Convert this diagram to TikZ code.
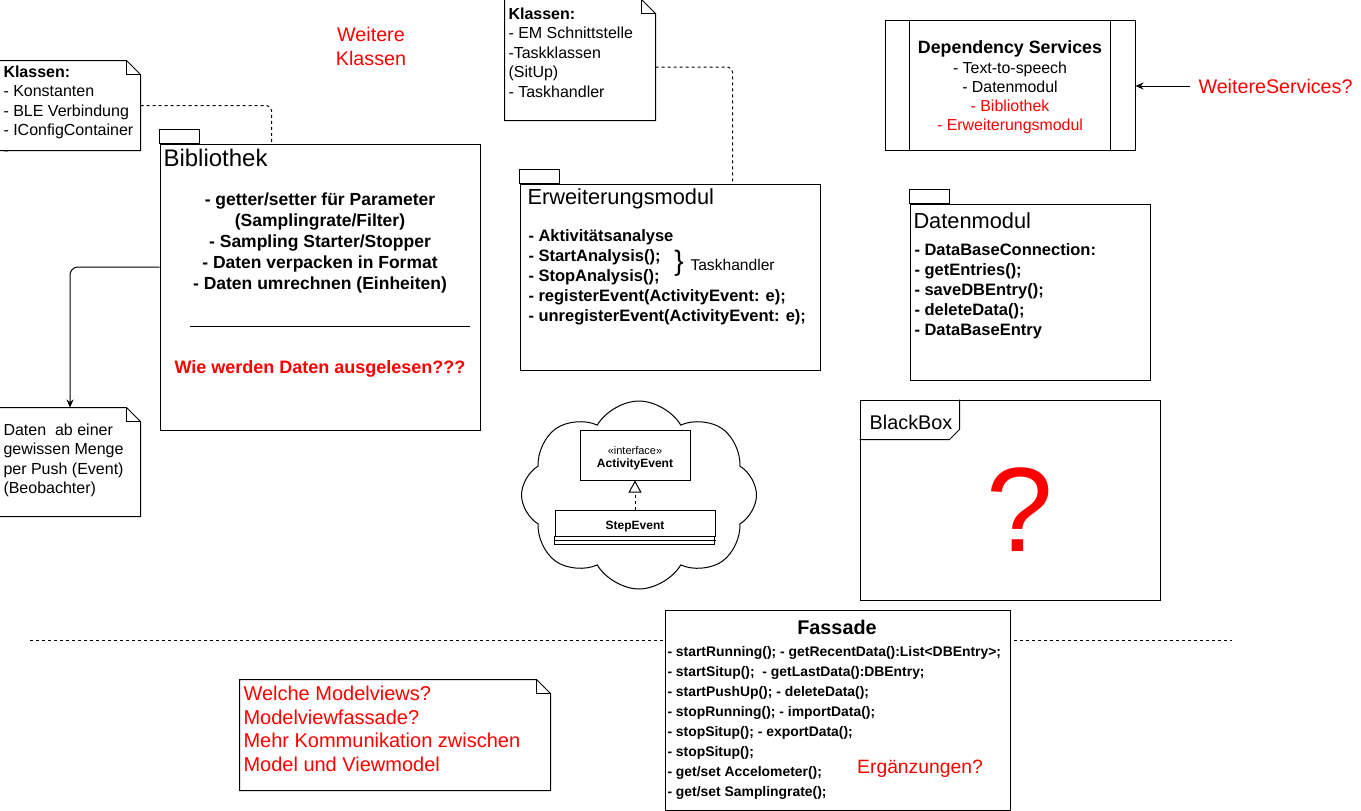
\documentclass[tikz,border=0pt]{standalone}
\usepackage{fontspec}
\setmainfont{Liberation Sans}
\usetikzlibrary{shapes.symbols,arrows.meta}
\newcommand{\txtsize}[2]{\fontsize{#1}{#2}\selectfont}
\newcommand{\dogear}[1]{%
  \draw (#1.north west) -- ([xshift=-14pt]#1.north east) -- ([yshift=-14pt]#1.north east) -- (#1.south east) -- (#1.south west) -- cycle;
  \draw ([xshift=-14pt]#1.north east) |- ([yshift=-14pt]#1.north east);}
\begin{document}
\begin{tikzpicture}[x=1pt, y=-1pt, line width=1pt,
  every node/.style={inner sep=0pt, font=\txtsize{16}{19.5}},
  pkg/.style={draw, fill=white},
  plain/.style={align=left, font=\txtsize{16}{19.6}},
  opslist/.style={align=left, font=\bfseries\txtsize{16.5}{20}},
  pkgtitle/.style={anchor=north west, font=\txtsize{21.8}{26}},
  dashlink/.style={dash pattern=on 3pt off 3pt, rounded corners=5pt},
  arr/.style={-{Stealth[length=8pt,width=7pt]}}]
\useasboundingbox (0,0) rectangle (1361,811);
\node[minimum width=140pt,minimum height=89pt] (klassenBib) at (70,105.5) {};
\dogear{klassenBib}
\node[plain,anchor=north west] (klassenBibTxt) at (3,65) {\textbf{Klassen:}\\- Konstanten\\- BLE Verbindung\\- IConfigContainer\\-};
\node[text=red,align=center,font=\txtsize{19.7}{24}] (moreCls) at (371,46) {Weitere\\Klassen};
\node[pkg,minimum width=320pt,minimum height=286pt] (bib) at (320,287) {};
\draw (bib.north west) rectangle ++(40pt,14pt);
\node[anchor=north west,font=\txtsize{24}{28}] (bibTitle) at (163,149) {Bibliothek};
\node[anchor=north,align=center,font=\bfseries\txtsize{17.5}{21}] (bibOps) at (320,192) {- getter/setter für Parameter\\(Samplingrate/Filter)\\- Sampling Starter/Stopper\\- Daten verpacken in Format\\- Daten umrechnen (Einheiten)};
\draw (190,326) -- (470,326);
\node[anchor=base,text=red,font=\bfseries\txtsize{18}{22}] (bibQ) at (320,373) {Wie werden Daten ausgelesen???};
\draw[dashlink] (klassenBib.east) -| ([xshift=112pt]bib.north west);
\node[minimum width=140pt,minimum height=108pt] (pushNote) at (70,462) {};
\dogear{pushNote}
\node[plain,anchor=north west] (pushTxt) at (3,423) {Daten~ ab einer\\gewissen Menge\\per Push (Event)\\(Beobachter)};
\draw[arr,rounded corners=8pt] ([yshift=20pt]bib.west) -| (pushNote.north);
\node[minimum width=150pt,minimum height=120pt] (klassenErw) at (580,60) {};
\dogear{klassenErw}
\node[plain,anchor=north west] (klassenErwTxt) at (508,7) {\textbf{Klassen:}\\- EM Schnittstelle\\-Taskklassen\\(SitUp)\\- Taskhandler};
\node[pkg,minimum width=300pt,minimum height=186pt] (erw) at (670,277) {};
\draw (erw.north west) rectangle ++(40pt,14pt);
\node[pkgtitle] (erwTitle) at (527,188) {Erweiterungsmodul};
\node[opslist,anchor=north west] (erwOps) at (528,229) {- Aktivitätsanalyse\\- StartAnalysis();\\- StopAnalysis();\\- registerEvent(ActivityEvent: e);\\- unregisterEvent(ActivityEvent: e);};
\node[font=\txtsize{28}{30}] (erwBrace) at (679,263.5) {\}};
\node[anchor=west,font=\txtsize{15.6}{19}] (erwHandler) at (690,265) {Taskhandler};
\draw[dashlink] ([yshift=-7pt]klassenErw.east) -| ([xshift=213pt]erw.north west);
\node[draw,minimum width=250pt,minimum height=130pt] (depSvc) at (1010,85) {};
\node[align=center,font=\txtsize{15.9}{19.3}] (depSvcTxt) at (1010,87.5) {{\bfseries\txtsize{17.8}{19.3}Dependency Services}\\- Text-to-speech\\- Datenmodul\\\textcolor{red}{- Bibliothek}\\\textcolor{red}{- Erweiterungsmodul}};
\draw ([xshift=25pt]depSvc.north west) -- ([xshift=25pt]depSvc.south west);
\draw ([xshift=-25pt]depSvc.north east) -- ([xshift=-25pt]depSvc.south east);
\node[text=red,anchor=west,inner xsep=8pt,font=\txtsize{19.7}{24}] (moreSvc) at (1190,86) {WeitereServices?};
\draw[arr] (moreSvc.west) -- (moreSvc.west -| depSvc.east);
\node[pkg,minimum width=240pt,minimum height=176pt] (daten) at (1030,292) {};
\draw (daten.north west) rectangle ++(40pt,14pt);
\node[pkgtitle] (datenTitle) at (913,212) {Datenmodul};
\node[opslist,anchor=north west] (datenOps) at (914,243) {- DataBaseConnection:\\- getEntries();\\- saveDBEntry();\\- deleteData();\\- DataBaseEntry};
\node[cloud,draw,cloud puffs=8,cloud puff arc=120,cloud ignores aspect,minimum width=235pt,minimum height=188pt] (evCloud) at (639,495) {};
\node[draw,fill=white,minimum width=110pt,minimum height=50pt,align=center,text height=28pt,font=\txtsize{12}{13}] (actEv) at (635,455) {{\txtsize{11}{13}«interface»}\\{\bfseries ActivityEvent}};
\node[draw,fill=white,minimum width=160pt,minimum height=26pt,text height=12.6pt,text depth=0pt,font=\bfseries\txtsize{12}{14}] (stepEv) at (635,523) {StepEvent};
\draw (stepEv.south west) rectangle ++(160pt,-8pt);
\draw ([yshift=-4pt]stepEv.south west) -- ([yshift=-4pt]stepEv.south east);
\draw[dash pattern=on 3pt off 3pt,-{Triangle[open,length=12pt,width=13pt]}] (stepEv) -- (actEv);
\node[draw,minimum width=300pt,minimum height=200pt] (blackBox) at (1010,500) {};
\draw ([xshift=100pt]blackBox.north west) -- ++(0pt,-30pt) -- ++(-10pt,-10pt) -- ([yshift=-40pt]blackBox.north west);
\node[font=\txtsize{19.8}{24}] (blackBoxLbl) at (911,422) {BlackBox};
\node[text=red,font=\txtsize{120}{120}] (blackQ) at (1020,510) {?};
\draw[dash pattern=on 3pt off 3pt] (30,640) -- (1232,640);
\node[draw,fill=white,minimum width=345pt,minimum height=200pt] (fassade) at (837.5,710) {};
\node[font=\bfseries\txtsize{19.8}{24}] (fassadeTitle) at (837,627) {Fassade};
\node[anchor=north west,align=left,font=\bfseries\txtsize{13.9}{20}] (fassadeOps) at (667,646) {- startRunning(); - getRecentData():List<DBEntry>;\\- startSitup();~ - getLastData():DBEntry;\\- startPushUp(); - deleteData();\\- stopRunning(); - importData();\\- stopSitup(); - exportData();\\- stopSitup();\\- get/set Accelometer();\\- get/set Samplingrate();};
\node[anchor=base,text=red,font=\txtsize{19.3}{24}] (ergQ) at (920,773) {Ergänzungen?};
\node[minimum width=310pt,minimum height=110pt] (viewNote) at (395,735) {};
\dogear{viewNote}
\node[anchor=north west,align=left,text=red,font=\txtsize{20}{23.5}] (viewTxt) at (243,686) {Welche Modelviews?\\Modelviewfassade?\\Mehr Kommunikation zwischen\\Model und Viewmodel};
\end{tikzpicture}
\end{document}
